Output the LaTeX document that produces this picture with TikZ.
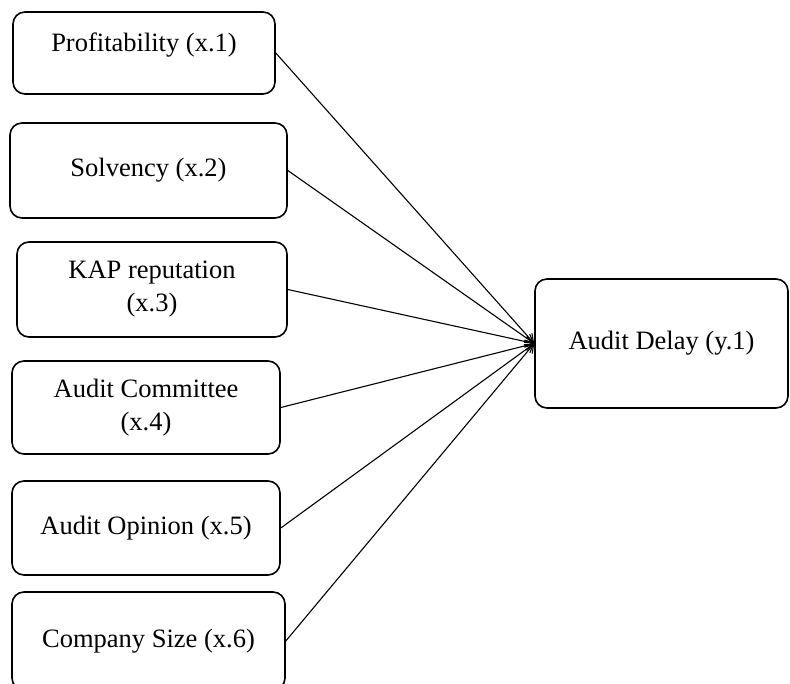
\documentclass[tikz,border=0pt]{standalone}
\usepackage{fontspec}
\setmainfont{Liberation Serif}
\usetikzlibrary{arrows.meta}

\begin{document}
\begin{tikzpicture}[x=1pt, y=-1pt,
    varbox/.style={draw, line width=1.6pt, rounded corners=12pt, inner sep=0pt, align=center, font=\fontsize{26.5}{33}\selectfont},
    link/.style={line width=1.1pt, -{Straight Barb[length=8pt,width=10pt]}}]
        \useasboundingbox (0,0) rectangle (790,684);
        \node[varbox, minimum width=262pt, minimum height=82pt, text depth=21pt] (x1) at (144,53) {Profitability (x.1)};
        \node[varbox, minimum width=277pt, minimum height=95pt] (x2) at (148.5,170.5) {Solvency (x.2)};
        \node[varbox, minimum width=270pt, minimum height=95pt] (x3) at (152,289.5) {KAP reputation\\(x.3)};
        \node[varbox, minimum width=268pt, minimum height=93pt] (x4) at (146,407.5) {Audit Committee\\(x.4)};
        \node[varbox, minimum width=268pt, minimum height=94pt] (x5) at (146,528) {Audit Opinion (x.5)};
        \node[varbox, minimum width=273pt, minimum height=98pt] (x6) at (148.5,641) {Company Size (x.6)};
        \node[varbox, minimum width=253pt, minimum height=129pt] (y1) at (661.5,343.5) {Audit Delay (y.1)};
        \foreach \v in {x1,x2,x3,x4,x5,x6}
          \draw[link] (\v.east) -- (y1.west);
      \end{tikzpicture}
\end{document}
